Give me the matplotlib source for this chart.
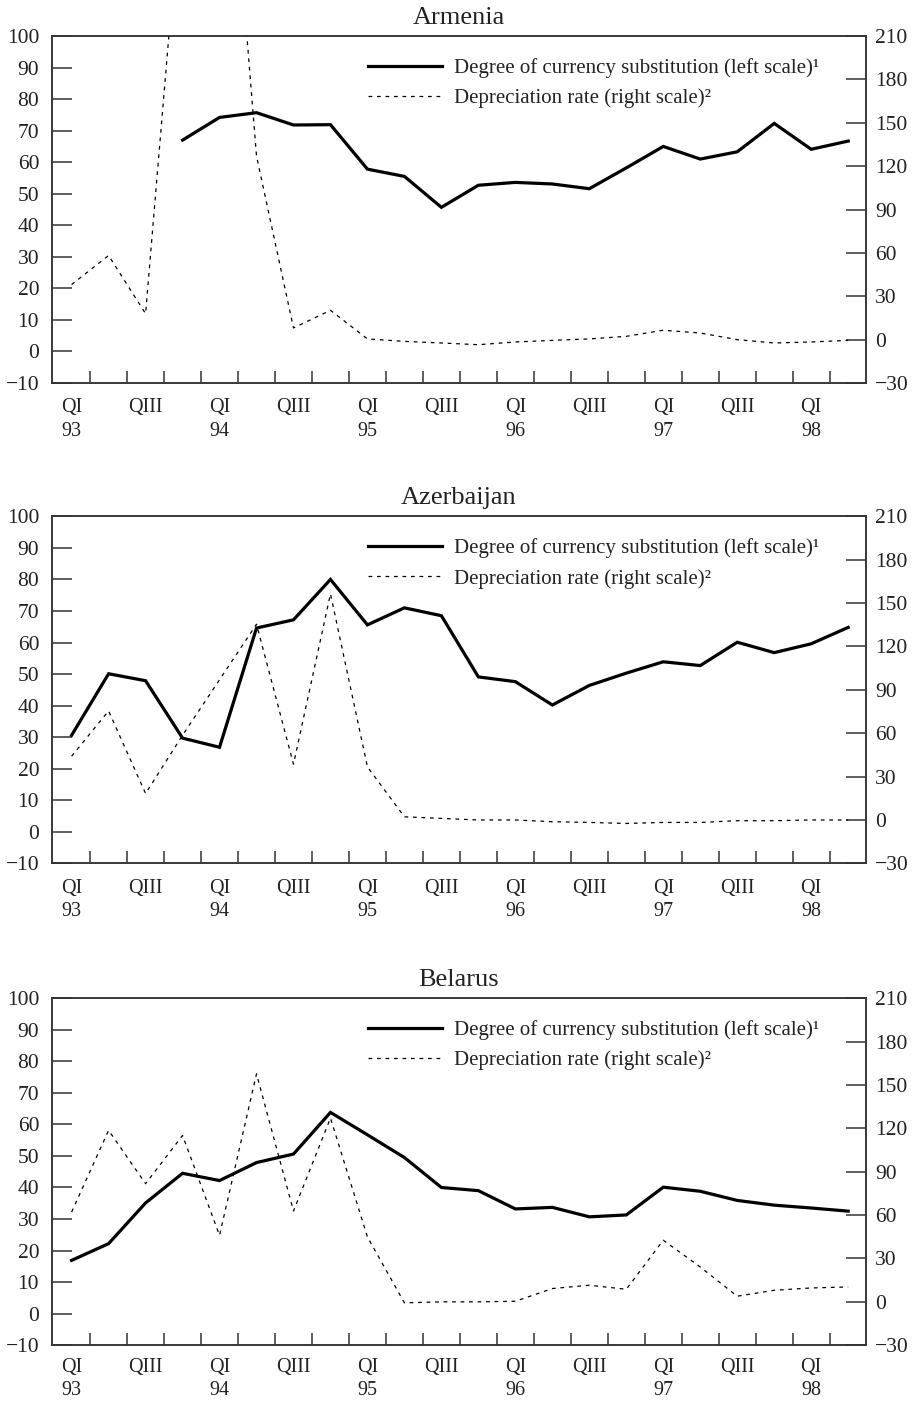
import numpy as np
import matplotlib.pyplot as plt
from matplotlib.lines import Line2D

plt.rcParams['font.family'] = ['Liberation Serif', 'DejaVu Serif']
plt.rcParams['text.color'] = '#222222'

# quarters QI 93 .. QII 98
quarter_labels = ['QI\n93', '', 'QIII', '', 'QI\n94', '', 'QIII', '', 'QI\n95', '', 'QIII', '',
                  'QI\n96', '', 'QIII', '', 'QI\n97', '', 'QIII', '', 'QI\n98', '']

countries = ['Armenia', 'Azerbaijan', 'Belarus']

# degree of currency substitution, percent (left scale)
subst_armenia = [np.nan, np.nan, np.nan, 67.0, 74.2, 75.7, 71.8, 71.9, 57.8, 55.5, 45.7,
                 52.7, 53.6, 53.1, 51.6, 58.2, 65.0, 61.0, 63.3, 72.3, 64.1, 66.7]
subst_azerbaijan = [30.6, 50.1, 47.9, 29.7, 26.8, 64.6, 67.2, 80.0, 65.6, 71.0, 68.5,
                    49.1, 47.6, 40.2, 46.4, 50.3, 53.9, 52.7, 60.1, 56.8, 59.6, 64.8]
subst_belarus = [16.9, 22.2, 35.1, 44.5, 42.2, 47.9, 50.6, 63.8, 56.7, 49.5, 40.0,
                 39.0, 33.2, 33.7, 30.7, 31.3, 40.1, 38.8, 35.9, 34.4, 33.5, 32.5]

# depreciation rate, percent (right scale)
depr_armenia = [38.1, 58.2, 18.0, 323.0, 446.0, 127.0, 8.1, 20.3, 0.5, -1.2, -2.3,
                -3.5, -1.6, -0.5, 0.5, 2.3, 6.5, 4.6, 0.0, -2.3, -1.6, -0.5]
depr_azerbaijan = [44.1, 75.4, 18.3, 58.6, 97.0, 135.4, 38.6, 156.4, 36.7, 2.2, 1.1,
                   0.0, 0.0, -1.2, -1.7, -2.4, -1.7, -1.7, -0.5, -0.5, 0.0, 0.0]
depr_belarus = [62.1, 118.6, 81.7, 115.1, 46.0, 157.7, 62.8, 127.1, 44.9, -0.7, 0.0,
                0.0, 0.4, 9.2, 11.5, 8.7, 42.6, 24.1, 3.9, 8.0, 9.6, 10.3]

subst = [subst_armenia, subst_azerbaijan, subst_belarus]
depr = [depr_armenia, depr_azerbaijan, depr_belarus]

left_ticks = list(range(-10, 101, 10))
right_ticks = list(range(-30, 211, 30))

DASH = (0, (3.0, 3.8))
EDGE = '#333333'

fig = plt.figure(figsize=(9.14, 14.02), dpi=100)
bottoms = [0.7268, 0.3842, 0.0405]
label_pad = [11, 11, 9]

for i, name in enumerate(countries):
    ax = fig.add_axes([0.0565, bottoms[i], 0.8905, 0.2475])
    ax2 = ax.twinx()
    x = np.arange(len(quarter_labels))

    ax.plot(x, subst[i], color='black', lw=2.3, solid_joinstyle='miter')
    ax2.plot(x, depr[i], color='black', lw=0.9, linestyle=DASH)

    ax.set_xlim(-0.54, 21.47)
    ax.set_ylim(-10, 100)
    ax2.set_ylim(-30, 210)

    ax.set_yticks(left_ticks)
    ax2.set_yticks(right_ticks)
    ax.tick_params(axis='y', direction='in', length=14.5, width=1.1, pad=9,
                   labelsize=15.5, color=EDGE, labelcolor='#222222')
    ax2.tick_params(axis='y', direction='in', length=14.5, width=1.1, pad=7,
                    labelsize=15.5, color=EDGE, labelcolor='#222222')

    # quarter boundaries as inward ticks, labels at quarter centres
    ax.set_xticks(x[:-1] + 0.5)
    ax.set_xticklabels([])
    ax.set_xticks(x, minor=True)
    ax.set_xticklabels(quarter_labels, minor=True, linespacing=1.3)
    ax.tick_params(axis='x', which='major', direction='in', length=8.8, width=1.1, color=EDGE)
    ax.tick_params(axis='x', which='minor', length=0, pad=label_pad[i], labelsize=14.5,
                   labelcolor='#222222')

    for a in (ax, ax2):
        for sp in a.spines.values():
            sp.set_linewidth(1.1)
            sp.set_color(EDGE)

    ax.set_title(name, fontsize=19, pad=9, color='#222222')

    handles = [Line2D([], [], color='black', lw=2.3),
               Line2D([], [], color='black', lw=0.9, linestyle=DASH)]
    labels = ['Degree of currency substitution (left scale)\u00b9',
              'Depreciation rate (right scale)\u00b2']
    ax2.legend(handles, labels, loc='upper left', bbox_to_anchor=(0.389, 0.936),
               frameon=False, fontsize=15, handlelength=3.55, handletextpad=0.55,
               borderaxespad=0, borderpad=0, labelspacing=0.5)

fig.savefig('out.png', dpi=100)
